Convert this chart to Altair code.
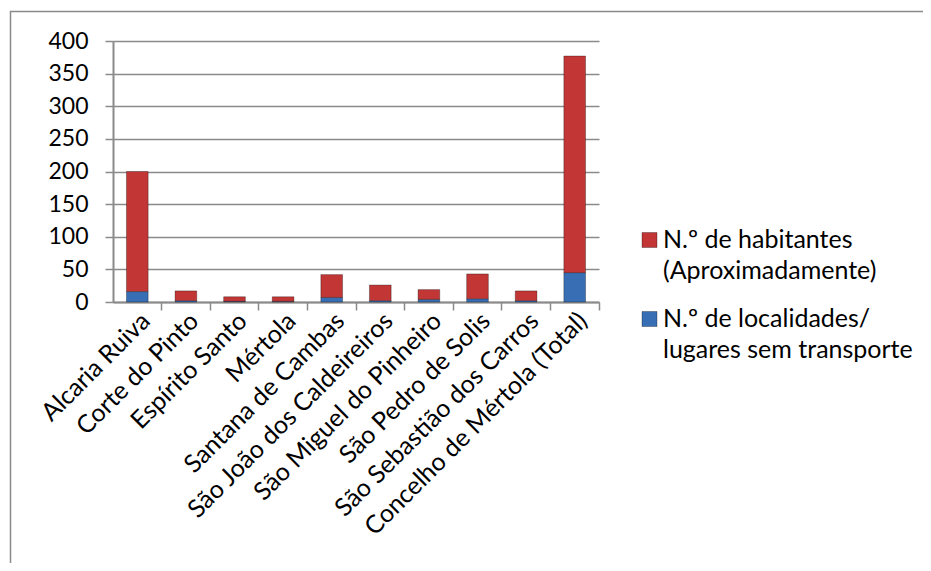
import altair as alt
import pandas as pd

categories = [
    "Alcaria Ruiva", "Corte do Pinto", "Espírito Santo", "Mértola",
    "Santana de Cambas", "São João dos Caldeireiros", "São Miguel do Pinheiro",
    "São Pedro de Solis", "São Sebastião dos Carros", "Concelho de Mértola (Total)",
]
habitantes = [184, 15, 7, 7, 35, 24, 15, 38, 15, 332]
localidades = [16, 2, 1, 1, 7, 2, 4, 5, 2, 45]
series_names = [
    "N.º de habitantes (Aproximadamente)",
    "N.º de localidades/ lugares sem transporte",
]
legend_lines = [
    ["N.º de habitantes", "(Aproximadamente)"],
    ["N.º de localidades/", "lugares sem transporte"],
]
series_colors = ["#C23636", "#376EB4"]
y_ticks = [0, 50, 100, 150, 200, 250, 300, 350, 400]

rows = []
for c, h, l in zip(categories, habitantes, localidades):
    rows.append({"cat": c, "serie": series_names[1], "valor": l, "ord": 0})
    rows.append({"cat": c, "serie": series_names[0], "valor": h, "ord": 1})
df = pd.DataFrame(rows)

GRAY = "#8A8A8A"
FONT = "Lato"
xscale = alt.Scale(domain=categories, paddingInner=0, paddingOuter=0)

bars = alt.Chart(df).mark_bar(size=21.7, stroke="black", strokeOpacity=0.3, strokeWidth=1).encode(
    x=alt.X("cat:N", scale=xscale, sort=categories, title=None,
            axis=alt.Axis(orient="bottom", labelAngle=-45, labelFontSize=25, labelColor="#000",
                          ticks=False, domain=True, domainColor=GRAY, domainWidth=2,
                          labelPadding=6, grid=False, labelLimit=400)),
    y=alt.Y("valor:Q", stack="zero", title=None,
            scale=alt.Scale(domain=[0, 400], nice=False),
            axis=alt.Axis(values=y_ticks, labelFontSize=23, labelColor="#000",
                          grid=True, gridColor=GRAY, gridWidth=1.5,
                          tickSize=8, tickColor=GRAY, tickWidth=1.5,
                          domainColor=GRAY, domainWidth=2, labelPadding=17)),
    color=alt.Color("serie:N",
                    scale=alt.Scale(domain=series_names, range=series_colors),
                    legend=None),
    order=alt.Order("ord:Q"),
)

ticks_layer = alt.Chart(df).mark_point(opacity=0).encode(
    x=alt.X("cat:N", scale=xscale, sort=categories, title=None,
            axis=alt.Axis(orient="bottom", labels=False, domain=False, grid=False,
                          ticks=True, tickSize=8, tickColor=GRAY, tickWidth=1.5,
                          bandPosition=1)),
)

border = alt.Chart(pd.DataFrame({"k": [0]})).mark_rect(
    filled=False, stroke=GRAY, strokeWidth=1.5, clip=False
).encode(
    x=alt.value(-102.5), x2=alt.value(1000), y=alt.value(-29.5), y2=alt.value(700)
)

# legend (drawn as guide decoration)
legend_layers = []
one = pd.DataFrame({"k": [0]})
for i, (lines, col) in enumerate(zip(legend_lines, series_colors)):
    y0 = 199 + i * 79
    legend_layers.append(
        alt.Chart(one).mark_square(size=225, filled=True, opacity=1, color=col,
                                   stroke="black", strokeOpacity=0.3, strokeWidth=1)
        .encode(x=alt.value(536.5), y=alt.value(y0))
    )
    for j, line in enumerate(lines):
        legend_layers.append(
            alt.Chart(one).mark_text(text=line, align="left", baseline="middle",
                                     fontSize=25, font=FONT, color="#000")
            .encode(x=alt.value(550), y=alt.value(y0 + j * 31))
        )

chart = alt.layer(border, bars, ticks_layer, *legend_layers).resolve_axis(x="independent").properties(
    width=486, height=261,
    autosize=alt.AutoSizeParams(type="none"),
    padding={"left": 105, "top": 33, "right": 324, "bottom": 261},
).configure(font=FONT).configure_view(stroke=None)

chart.save("out.html", embed_options={"renderer": "svg", "actions": False})
